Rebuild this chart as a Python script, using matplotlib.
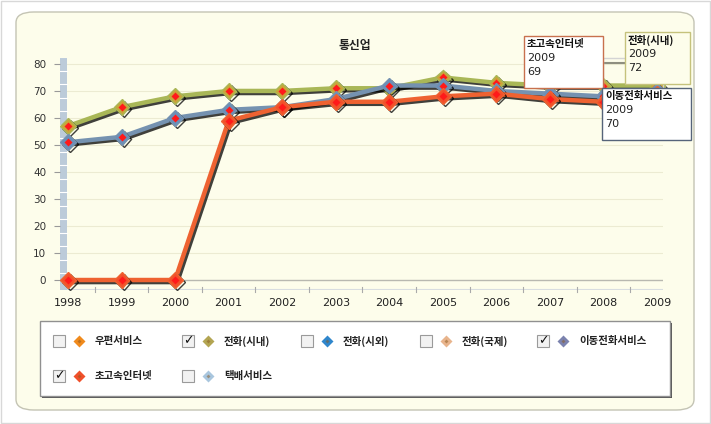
import matplotlib
matplotlib.use("Agg")
import matplotlib.pyplot as plt
import matplotlib.patheffects as pe
from matplotlib.patches import Rectangle, FancyBboxPatch

plt.rcParams['font.family'] = ['Noto Sans CJK KR', 'DejaVu Sans']

years = [1998, 1999, 2000, 2001, 2002, 2003, 2004, 2005, 2006, 2007, 2008, 2009]
localPhone = [57, 64, 68, 70, 70, 71, 71, 75, 73, 72, 72, 72]
mobilePhone = [51, 53, 60, 63, 64, 67, 72, 72, 70, 69, 68, 70]
internet = [0, 0, 0, 59, 64, 66, 66, 68, 69, 67, 66, 69]

yTicks = [0, 10, 20, 30, 40, 50, 60, 70, 80]

legendNames = ["우편서비스", "전화(시내)", "전화(시외)", "전화(국제)", "이동전화서비스",
               "초고속인터넷", "택배서비스"]
legendColors = ["#f08a1c", "#b3a552", "#2f86cc", "#e8b48c", "#7b82ae", "#f0502a", "#a9c6de"]
legendChecked = [False, True, False, False, True, True, False]

W, H = 711, 424
fig = plt.figure(figsize=(W / 100, H / 100), dpi=100)
fig.patch.set_facecolor("white")


def fx(x):
    return x / W


def fy(y):
    return 1 - y / H


# outer border and panel
fig.patches.append(Rectangle((0.001, 0.002), 0.997, 0.995, transform=fig.transFigure,
                             facecolor="none", edgecolor="#d8d8d8", linewidth=1, zorder=0))
fig.patches.append(FancyBboxPatch((fx(16), fy(410)), fx(694) - fx(16), fy(12) - fy(410),
                                  boxstyle="round,pad=0,rounding_size=0.025",
                                  transform=fig.transFigure, facecolor="#fdfdeb",
                                  edgecolor="#c4c4b4", linewidth=1, zorder=0))

# axes: pixel box x 60..663, y 58..290
ax = fig.add_axes([fx(60), fy(290), fx(663) - fx(60), fy(58) - fy(290)])
ax.set_zorder(2)
ax.set_facecolor("none")
x0 = 1998 - 8 / 53.55
x1 = 2009 + 6 / 53.55
ax.set_xlim(x0, x1)
ax.set_ylim(-3.7, 82.2)
for s in ax.spines.values():
    s.set_visible(False)

for v in yTicks[1:]:
    ax.axhline(v, color="#ecebd2", linewidth=0.8, zorder=0)
ax.axhline(0, color="#b8b8b0", linewidth=1, zorder=1)
ax.axhline(-3.3, xmin=0, xmax=1, color="#d8dde0", linewidth=0.8, zorder=1)

# left bar
ax.add_patch(Rectangle((0, 0), 7 / 603, 1, transform=ax.transAxes,
                       facecolor="#bccbd9", edgecolor="none", zorder=1))
for v in range(0, 81, 5):
    ax.plot([x0, x0 + 7 / 53.55], [v + 2.5, v + 2.5], color="white", linewidth=0.8, zorder=1)

ax.set_yticks(yTicks)
ax.set_yticklabels([str(v) for v in yTicks], fontsize=7.5, color="#333333", family="DejaVu Sans")
ax.tick_params(axis="y", length=4, color="#999999", pad=6)
ax.set_xticks(years)
ax.set_xticklabels([str(y) for y in years], fontsize=8, color="#222222", family="DejaVu Sans")
ax.tick_params(axis="x", length=0, pad=6)
for i in range(11):
    ax.plot([years[i] + 0.5] * 2, [-2.5, -4.5], color="#aaaaaa", linewidth=0.8,
            clip_on=False, zorder=1)

shadow = [pe.SimpleLineShadow(offset=(1.5, -1.5), shadow_color="black", alpha=0.75),
          pe.Normal()]

series = [
    (localPhone, "#a9b757", "#c9a53a"),
    (mobilePhone, "#7592b0", "#6a8fb8"),
    (internet, "#ee6231", "#f2502a"),
]
for i, (vals, lc, mc) in enumerate(series):
    ax.plot(years, vals, color=lc, linewidth=3.2, solid_joinstyle="round",
            path_effects=shadow, zorder=3 + i, clip_on=False)
    ax.plot(years, vals, linestyle="none", marker="D", markersize=8,
            markerfacecolor=mc, markeredgecolor=lc, markeredgewidth=1,
            path_effects=shadow, zorder=3 + i, clip_on=False)
    ax.plot(years, vals, linestyle="none", marker="D", markersize=4.5,
            markerfacecolor="#ff1a1a", markeredgecolor="none", zorder=3 + i, clip_on=False)

fig.text(fx(355), fy(45), "통신업", fontsize=8.5, fontweight="bold", ha="center",
         va="center", color="#222222")

# tooltips
fig.patches.append(Rectangle((fx(603), fy(115)), fx(663) - fx(603), fy(58) - fy(115),
                             transform=fig.transFigure, facecolor="none",
                             edgecolor="#d4d4d4", linewidth=1, zorder=5))
fig.lines.append(plt.Line2D([fx(603), fx(625)], [fy(63), fy(63)], transform=fig.transFigure,
                            color="#8f8f80", linewidth=1.5, zorder=5))
tips = [
    (524, 36, 603, 88, "#c8714e", "white", "초고속인터넷", "2009", str(internet[-1])),
    (625, 32, 690, 84, "#c5c27c", "#fdfdeb", "전화(시내)", "2009", str(localPhone[-1])),
    (602, 88, 691, 140, "#56647a", "white", "이동전화서비스", "2009", str(mobilePhone[-1])),
]
for (l, t, r, b, ec, fc, name, yr, val) in tips:
    fig.patches.append(Rectangle((fx(l), fy(b)), fx(r) - fx(l), fy(t) - fy(b),
                                 transform=fig.transFigure, facecolor=fc,
                                 edgecolor=ec, linewidth=1, zorder=6))
    fig.text(fx(l + 3), fy(t + 8), name, fontsize=7.5, fontweight="bold",
             va="center", ha="left", color="#111111", zorder=7)
    fig.text(fx(l + 3), fy(t + 22), yr, fontsize=8, va="center", ha="left",
             color="#222222", family="DejaVu Sans", zorder=7)
    fig.text(fx(l + 3), fy(t + 36), val, fontsize=8, va="center", ha="left",
             color="#222222", family="DejaVu Sans", zorder=7)

# legend box
fig.patches.append(Rectangle((fx(42), fy(398)), fx(672) - fx(42), fy(323) - fy(398),
                             transform=fig.transFigure, facecolor="#555555",
                             edgecolor="none", zorder=5))
fig.patches.append(Rectangle((fx(40), fy(396)), fx(670) - fx(40), fy(321) - fy(396),
                             transform=fig.transFigure, facecolor="white",
                             edgecolor="#909090", linewidth=1, zorder=6))
legendPos = [(59, 341), (188, 341), (307, 341), (426, 341), (543, 341), (59, 376), (188, 376)]
for (cx, cy), name, col, chk in zip(legendPos, legendNames, legendColors, legendChecked):
    fig.patches.append(Rectangle((fx(cx - 6), fy(cy + 6)), fx(12), fy(0) - fy(12),
                                 transform=fig.transFigure, facecolor="#f2f2f2",
                                 edgecolor="#9a9a9a", linewidth=0.8, zorder=7))
    if chk:
        fig.text(fx(cx), fy(cy), "✓", fontsize=9, ha="center", va="center",
                 color="#111111", family="DejaVu Sans", fontweight="bold", zorder=8)
    fig.lines.append(plt.Line2D([fx(cx + 20)], [fy(cy)], transform=fig.transFigure,
                                marker="D", markersize=6, markerfacecolor=col,
                                markeredgecolor="none", zorder=8))
    fig.lines.append(plt.Line2D([fx(cx + 20)], [fy(cy)], transform=fig.transFigure,
                                marker="D", markersize=2, markerfacecolor="#8a5a20",
                                markeredgecolor="none", zorder=9, alpha=0.5))
    fig.text(fx(cx + 36), fy(cy), name, fontsize=7.5, fontweight="bold", ha="left",
             va="center", color="#222222", zorder=8)

fig.savefig("out.png", dpi=100)
